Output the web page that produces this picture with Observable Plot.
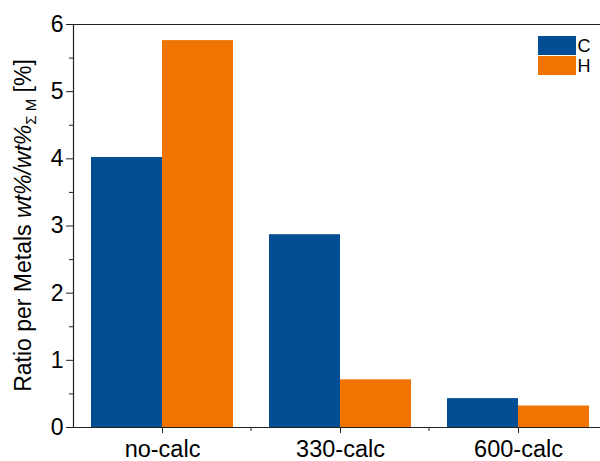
<!DOCTYPE html>
<html>
<head>
<meta charset="utf-8">
<script src="https://cdn.jsdelivr.net/npm/d3@7"></script>
<script src="https://cdn.jsdelivr.net/npm/@observablehq/plot@0.6"></script>
<style>
  body { margin: 0; background: #fff; }
  #chart { width: 600px; height: 461px; overflow: hidden; }
  #chart svg { overflow: visible; }
</style>
</head>
<body>
<div id="chart"></div>
<script>
// Calcination states and the two elements measured in each
const categories = ["no-calc", "330-calc", "600-calc"];
const elements = ["C", "H"];
// Ratio per metals (wt% / wt% of summed metals), in %
const valuesC = [4.02, 2.87, 0.43];
const valuesH = [5.76, 0.71, 0.32];
// Axis ticks
const yTicks = [0, 1, 2, 3, 4, 5, 6];
const yMinorTicks = [0.5, 1.5, 2.5, 3.5, 4.5, 5.5];
const colors = ["#034d95", "#ef7402"];

const rows = categories.flatMap((category, i) => [
  {category, element: "C", value: valuesC[i]},
  {category, element: "H", value: valuesH[i]}
]);

const font = "'Liberation Sans', Arial, Helvetica, sans-serif";
const axisColor = "#222";

const plot = Plot.plot({
  width: 600,
  height: 461,
  marginTop: 24,
  marginBottom: 34,
  marginLeft: 72,
  marginRight: 0,
  style: {fontFamily: font, fontSize: "22px", color: "#000", background: "#fff"},
  fx: {domain: categories, range: [72, 608], padding: 0, label: null},
  x: {domain: elements, paddingInner: 0, paddingOuter: 0.24, axis: null},
  y: {domain: [0, 6], label: null},
  color: {domain: elements, range: colors},
  marks: [
    Plot.barY(rows, {fx: "category", x: "element", y: "value", fill: "element"}),
    Plot.ruleY([0, 6], {stroke: axisColor, strokeWidth: 1.2}),
    Plot.frame({anchor: "left", facetAnchor: "left", stroke: axisColor, strokeWidth: 1.2}),
    Plot.axisY(yTicks, {tickSize: 7, tickPadding: 3, fontSize: 23, tickFormat: d3.format("d"), stroke: axisColor, fill: "#000", label: null}),
    Plot.axisY(yMinorTicks, {tickSize: 4, fill: "none", stroke: axisColor, label: null}),
    Plot.axisFx({anchor: "bottom", tickSize: 6, tickPadding: 7, fontSize: 23.5, stroke: axisColor, fill: "#000", label: null})
  ]
});

document.getElementById("chart").append(plot);

// Decorations drawn from the plot's own scales
const svg = d3.select(plot);
const fx = plot.scale("fx");
const y = plot.scale("y");
const color = plot.scale("color");
const y0 = y.apply(0);
const y6 = y.apply(6);

// Minor x ticks between the category groups
svg.append("g")
  .attr("stroke", axisColor)
  .selectAll("line")
  .data(categories.slice(1))
  .join("line")
  .attr("x1", d => fx.apply(d))
  .attr("x2", d => fx.apply(d))
  .attr("y1", y0)
  .attr("y2", y0 + 4);

// Y axis title with italic ratio and subscripted sum
const title = svg.append("text")
  .attr("transform", `translate(31,${(y0 + y6) / 2}) rotate(-90)`)
  .attr("text-anchor", "middle")
  .attr("font-family", font)
  .attr("font-size", 23)
  .attr("fill", "#000");
title.append("tspan").text("Ratio per Metals ");
title.append("tspan").attr("font-style", "italic").text("wt%/wt%");
title.append("tspan").attr("font-size", 15).attr("dy", 5).text("\u03A3 M");
title.append("tspan").attr("dy", -5).text(" [%]");

// Legend in the upper right corner
const legend = svg.append("g")
  .attr("transform", `translate(538,${y6 + 12})`)
  .attr("font-family", font)
  .attr("font-size", 18);
const item = legend.selectAll("g")
  .data(color.domain)
  .join("g")
  .attr("transform", (d, i) => `translate(0,${i * 20})`);
item.append("rect")
  .attr("width", 38)
  .attr("height", 19)
  .attr("fill", d => color.apply(d));
item.append("text")
  .attr("x", 46)
  .attr("y", 16)
  .attr("fill", "#000")
  .text(d => d);
</script>
</body>
</html>
